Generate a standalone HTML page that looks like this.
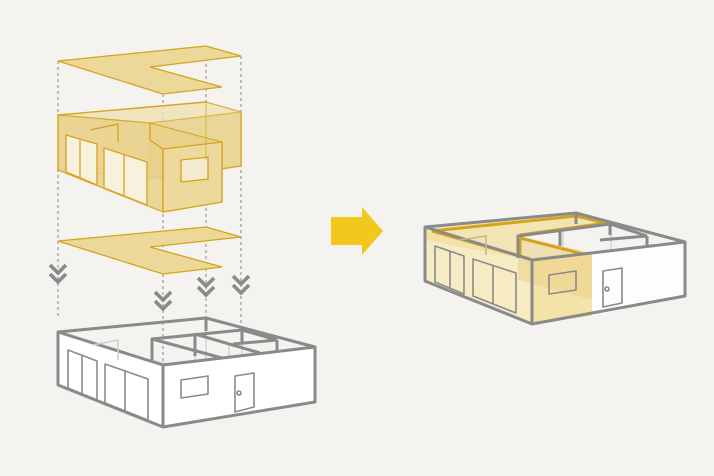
<!DOCTYPE html>
<html><head><style>html,body{margin:0;padding:0;background:#f4f3f0;}svg{display:block}</style></head>
<body>
<svg width="714" height="476" viewBox="0 0 714 476" xmlns="http://www.w3.org/2000/svg">
<defs>
<g id="chev"><path d="M-8,-12 L0,-4 L8,-12 M-8,-3 L0,5 L8,-3" fill="none" stroke="#8a8a8a" stroke-width="3.6"/></g>
</defs>
<g stroke="#9a9a9a" stroke-width="1.2" stroke-dasharray="3,3">
<line x1="58" y1="61" x2="58" y2="318"/>
<line x1="163" y1="94" x2="163" y2="365"/>
<line x1="206" y1="46" x2="206" y2="330"/>
<line x1="241" y1="56" x2="241" y2="340"/>
</g>
<polygon points="58,61 206,46 241,56 150,67 222,87 163,94" fill="#ecd99a" stroke="#d4a41a" stroke-width="1.3"/>
<g stroke="#d4a41a" stroke-width="1.3" stroke-linejoin="round">
<polygon points="58,115 206,102 241,112 241,166 163,178 58,170" fill="#f0e2b4" opacity="0.8"/>
<polygon points="150,123 241,112 241,166 150,178" fill="#e8d18a" opacity="0.7"/>
<polygon points="58,115 150,123 150,140 163,149 163,212 58,170" fill="#ead28c" opacity="0.85"/>
<polygon points="150,123 222,142 222,202 163,212 163,149 150,140" fill="#e9d18a" opacity="0.8"/>
<polygon points="163,149 222,142 222,202 163,212" fill="#edd99b"/>
<polygon points="66,135 97,144 97,185 66,172" fill="#f7f1de"/>
<line x1="80" y1="140" x2="80" y2="178"/>
<polygon points="104,148 147,162 147,205 104,188" fill="#f7f1de"/>
<line x1="124" y1="155" x2="124" y2="196"/>
<polyline points="90,130 118,124 118,142" fill="none"/>
<rect x="181" y="160" width="27" height="22" fill="#f4ead0" transform="skewY(-6) translate(0,19)"/>
<line x1="58" y1="115" x2="206" y2="102" fill="none"/>
<line x1="206" y1="102" x2="206" y2="160" opacity="0.5"/>
</g>
<polygon points="58,241 206,227 241,237 150,247 222,267 163,274" fill="#ecd99a" stroke="#d4a41a" stroke-width="1.3"/>
<use href="#chev" x="58" y="277"/>
<use href="#chev" x="163" y="304"/>
<use href="#chev" x="206" y="290"/>
<use href="#chev" x="241" y="288"/>
<g fill="none" stroke-linejoin="round">
<g stroke="#dcdcdc" stroke-width="2">
<polyline points="58,384 152,360 206,374 315,400"/>
<line x1="152" y1="338" x2="152" y2="360"/>
<line x1="206" y1="319" x2="206" y2="374"/>
<line x1="195" y1="335" x2="195" y2="380"/>
<line x1="242" y1="330" x2="242" y2="392"/>
<line x1="229" y1="345" x2="229" y2="395"/>
</g>
<polygon points="58,332 163,365 163,427 58,385" fill="#fff"/>
<polygon points="163,365 315,347 315,402 163,427" fill="#fff"/>
<g stroke="#8a8a8a" stroke-width="3">
<polygon points="58,332 206,318 315,347 163,365"/>
<polyline points="58,332 58,385 163,427 315,402 315,347"/>
<line x1="163" y1="365" x2="163" y2="427"/>
<polyline points="152,360 152,339 242,330 277,340"/>
<line x1="152" y1="339" x2="222" y2="358"/>
<line x1="195" y1="334" x2="260" y2="353"/>
<line x1="195" y1="334" x2="195" y2="356"/>
<line x1="206" y1="318" x2="206" y2="331"/>
<line x1="233" y1="344" x2="277" y2="340"/>
<line x1="277" y1="340" x2="277" y2="352"/>
<line x1="242" y1="330" x2="242" y2="342"/>
</g>
<g stroke="#8a8a8a" stroke-width="1.6">
<polygon points="68,350 97,361 97,400 68,388"/>
<line x1="82" y1="355" x2="82" y2="394"/>
<polygon points="105,364 148,379 148,420 105,403"/>
<line x1="125" y1="370" x2="125" y2="411"/>
<polygon points="181,380 208,376 208,394 181,398"/>
<polygon points="235,376 254,373 254,407 235,412"/>
<circle cx="239" cy="393" r="2"/>
<polyline points="93,345 118,340 118,360" stroke="#cfcfcf"/>
</g>
</g>
<polygon points="331,217 362,217 362,207 383,231 362,255 362,245 331,245" fill="#f2c81e"/>
<g fill="none" stroke-linejoin="round">
<g stroke="#dcdcdc" stroke-width="2">
<polyline points="425,281 518,258 576,270 685,296"/>
<line x1="518" y1="236" x2="518" y2="258"/>
<line x1="563" y1="230" x2="563" y2="290"/>
<line x1="611" y1="224" x2="611" y2="290"/>
</g>
<polygon points="425,227 532,260 532,324 425,281" fill="#f7ebc4"/>
<polygon points="532,260 592,253 592,316 532,324" fill="#f4e3a8"/>
<polygon points="592,253 685,242 685,296 592,316" fill="#fdfdfd"/>
<polygon points="425,227 576,213 610,222 518,236 518,258 425,240" fill="#f1dd9a" opacity="0.7"/>
<polygon points="518,236 592,253 592,300 518,280" fill="#ecd28a" opacity="0.6"/>
<g stroke="#d4a41a" stroke-width="3">
<polyline points="432,231 576,216 606,223 520,235"/>
<polyline points="520,239 520,258"/>
<line x1="520" y1="238" x2="583" y2="254"/>
<line x1="432" y1="231" x2="530" y2="259"/>
</g>
<g stroke="#8a8a8a" stroke-width="3">
<polygon points="425,227 576,213 685,242 532,260"/>
<polyline points="425,227 425,281 532,324 685,296 685,242"/>
<line x1="532" y1="260" x2="532" y2="324"/>
<polyline points="518,258 518,236 610,224 647,236"/>
<line x1="560" y1="230" x2="560" y2="246"/>
<line x1="576" y1="213" x2="576" y2="224"/>
<line x1="600" y1="240" x2="647" y2="236"/>
<line x1="647" y1="236" x2="647" y2="247"/>
<line x1="610" y1="224" x2="610" y2="235"/>
</g>
<g stroke="#8a8a8a" stroke-width="1.6">
<polygon points="435,246 464,256 464,294 435,282"/>
<line x1="450" y1="251" x2="450" y2="288"/>
<polygon points="473,259 516,273 516,313 473,296"/>
<line x1="493" y1="265" x2="493" y2="304"/>
<polygon points="549,275 576,271 576,290 549,294"/>
<polygon points="603,271 622,268 622,303 603,307"/>
<circle cx="607" cy="289" r="2"/>
<polyline points="459,240 486,236 486,255" stroke="#c9b78a"/>
</g>
</g>
</svg>
</body></html>
